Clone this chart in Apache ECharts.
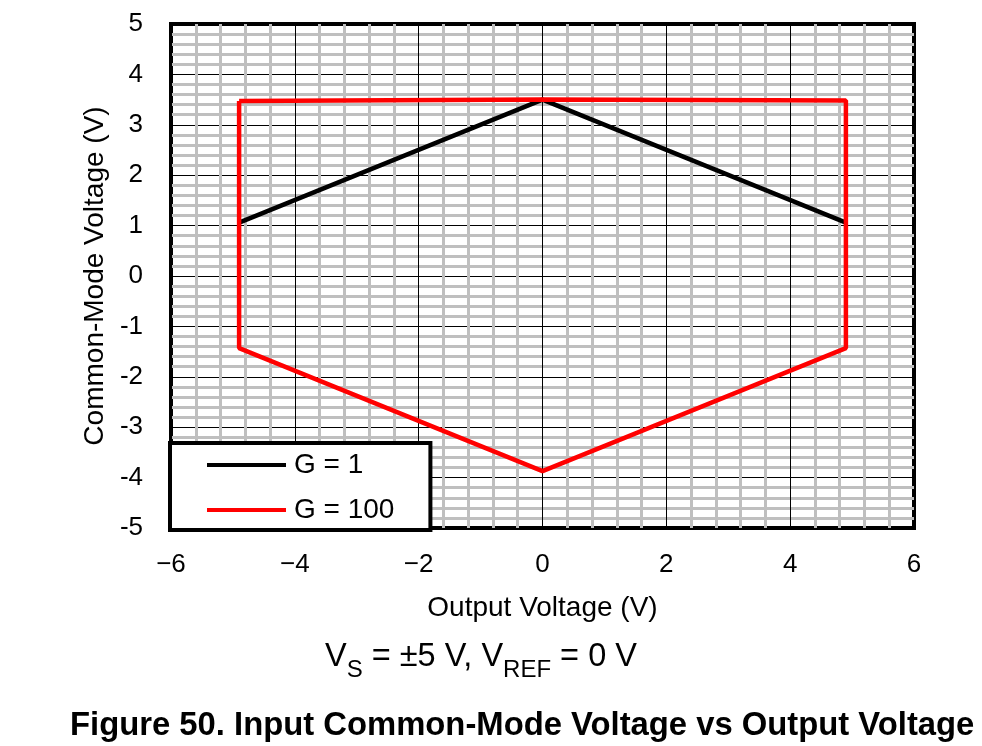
<!DOCTYPE html>
<html>
<head>
<meta charset="utf-8">
<script src="https://cdn.jsdelivr.net/npm/echarts@6/dist/echarts.min.js"></script>
<style>html,body{margin:0;padding:0;background:#fff}#c{width:982px;height:746px}</style>
</head>
<body>
<div id="c"></div>
<script>
const seriesNames = ['G = 1', 'G = 100'];
const g1X = [-4.9, 0, 4.9];
const g1Y = [1.06, 3.5, 1.06];
const g100X = [-4.9, 0, 4.9, 4.9, 0, -4.9, -4.9];
const g100Y = [3.47, 3.5, 3.48, -1.43, -3.87, -1.43, 3.47];
const xTicks = [-6, -4, -2, 0, 2, 4, 6];
const yTicks = [-5, -4, -3, -2, -1, 0, 1, 2, 3, 4, 5];

const FONT = 'Liberation Sans, Arial, sans-serif';
const zip = (xs, ys) => xs.map((x, i) => [x, ys[i]]);

const chart = echarts.init(document.getElementById('c'));
chart.setOption({
  animation: false,
  backgroundColor: '#fff',
  textStyle: { fontFamily: FONT, color: '#000' },
  grid: { left: 171, top: 24, width: 743, height: 504, show: true, borderColor: '#000', borderWidth: 4, backgroundColor: 'transparent' },
  xAxis: {
    type: 'value', min: xTicks[0], max: xTicks[xTicks.length - 1], interval: 2,
    axisLine: { show: false }, axisTick: { show: false },
    axisLabel: { fontSize: 26, color: '#000', fontFamily: FONT, margin: 24,
      formatter: v => (v < 0 ? '\u2212' + Math.abs(v) : String(v)) },
    splitLine: { show: true, lineStyle: { color: '#000', width: 1 } },
    minorTick: { show: false, splitNumber: 5 },
    minorSplitLine: { show: true, lineStyle: { color: '#bfbfbf', width: 3 } },
    name: 'Output Voltage (V)', nameLocation: 'middle', nameGap: 66,
    nameTextStyle: { fontSize: 28, color: '#000', fontFamily: FONT }
  },
  yAxis: {
    type: 'value', min: yTicks[0], max: yTicks[yTicks.length - 1], interval: 1,
    axisLine: { show: false }, axisTick: { show: false },
    axisLabel: { fontSize: 26, color: '#000', fontFamily: FONT, margin: 28,
      formatter: v => String(v) },
    splitLine: { show: true, lineStyle: { color: '#000', width: 1 } },
    minorTick: { show: false, splitNumber: 5 },
    minorSplitLine: { show: true, lineStyle: { color: '#bfbfbf', width: 3 } },
    name: 'Common-Mode Voltage (V)', nameLocation: 'middle', nameGap: 62,
    nameTextStyle: { fontSize: 28, color: '#000', fontFamily: FONT }
  },
  legend: {
    orient: 'vertical', left: 170, top: 443, icon: 'rect',
    padding: [8, 36, 6, 37], itemGap: 17, itemWidth: 79, itemHeight: 4,
    backgroundColor: '#fff', borderColor: '#000', borderWidth: 4, borderRadius: 0,
    textStyle: { fontSize: 28, color: '#000', fontFamily: FONT, padding: [0, 0, 0, 3] },
    data: seriesNames, z: 10
  },
  series: [
    { name: seriesNames[0], type: 'line', data: zip(g1X, g1Y), symbol: 'none',
      lineStyle: { color: '#000', width: 4.5 }, itemStyle: { color: '#000' } },
    { name: seriesNames[1], type: 'line', data: zip(g100X, g100Y), symbol: 'none',
      lineStyle: { color: '#ff0000', width: 4.5 }, itemStyle: { color: '#ff0000' } }
  ],
  graphic: [
    { type: 'text', left: 325, top: 641, style: {
      text: '{v|V}{s|S}{v| = ±5 V, V}{s|REF}{v| = 0 V}', fill: '#000',
      rich: { v: { fontSize: 32.5, fontFamily: FONT, lineHeight: 36, verticalAlign: 'bottom' },
              s: { fontSize: 24, fontFamily: FONT, lineHeight: 28, verticalAlign: 'bottom', padding: [0, 0, -8, 0] } } } },
    { type: 'text', left: 70, top: 709, style: {
      text: 'Figure 50. Input Common-Mode Voltage vs Output Voltage',
      fill: '#000', fontSize: 32.8, fontWeight: 'bold', fontFamily: FONT } }
  ]
});
</script>
</body>
</html>
